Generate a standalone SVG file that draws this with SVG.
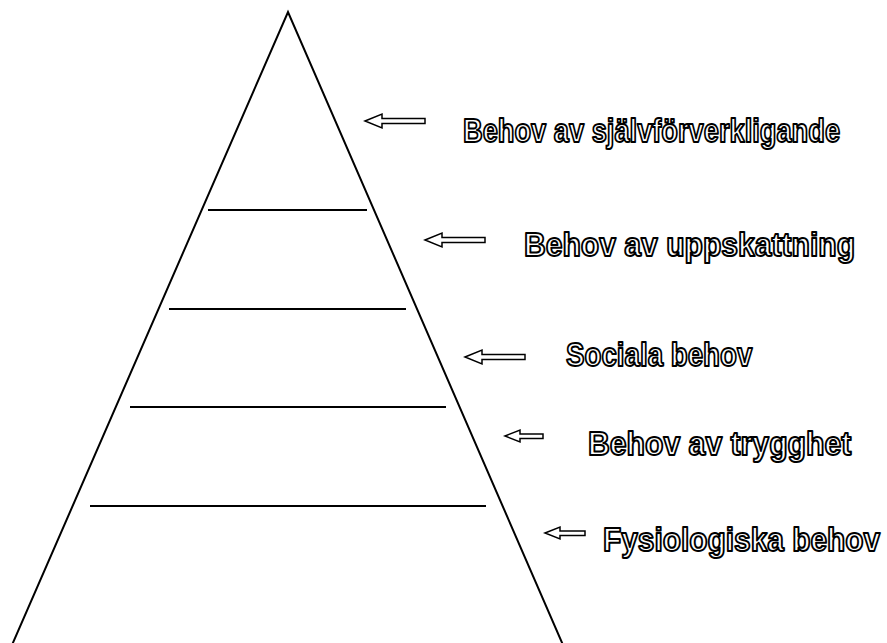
<svg xmlns="http://www.w3.org/2000/svg" width="887" height="643" viewBox="0 0 887 643">
<style>
.edge{stroke:#000;stroke-width:2;fill:none}
.lvl{stroke:#000;stroke-width:2}
.arr{fill:#fff;stroke:#000;stroke-width:1.5;stroke-linejoin:miter}
.lbl{font-family:"Liberation Sans",Arial,sans-serif;font-weight:bold;font-size:33px;fill:#fff;stroke:#000;stroke-width:2;stroke-linejoin:round}
</style>
<rect width="887" height="643" fill="#fff"/>
<g id="pyramid">
<polyline class="edge" points="12,645 288,12 563,645"/>
</g>
<g id="levels">
<line class="lvl" x1="208" y1="210" x2="367" y2="210"/>
<line class="lvl" x1="169" y1="309" x2="406" y2="309"/>
<line class="lvl" x1="130" y1="407" x2="446" y2="407"/>
<line class="lvl" x1="90" y1="506" x2="486" y2="506"/>
</g>
<g id="connectors">
<path class="arr" d="M365,121 L382,114 L382,118.5 L425,118.5 L425,123.5 L382,123.5 L382,128 Z"/>
<path class="arr" d="M425,240 L442,233 L442,237.5 L485,237.5 L485,242.5 L442,242.5 L442,247 Z"/>
<path class="arr" d="M465,357 L482,350 L482,354.5 L525,354.5 L525,359.5 L482,359.5 L482,364 Z"/>
<path class="arr" d="M505,436 L520,430 L520,434 L543,434 L543,438.5 L520,438.5 L520,442 Z"/>
<path class="arr" d="M545,533 L560,527 L560,531 L585,531 L585,535.5 L560,535.5 L560,539 Z"/>
</g>
<g id="n1"><text class="lbl" transform="translate(463,142) scale(0.826,1)">Behov av självförverkligande</text></g>
<g id="n2"><text class="lbl" transform="translate(524,256) scale(0.912,1)">Behov av uppskattning</text></g>
<g id="n3"><text class="lbl" transform="translate(566,366) scale(0.84,1)">Sociala behov</text></g>
<g id="n4"><text class="lbl" transform="translate(588,455) scale(0.915,1)">Behov av trygghet</text></g>
<g id="n5"><text class="lbl" transform="translate(603,551) scale(0.905,1)">Fysiologiska behov</text></g>
</svg>
